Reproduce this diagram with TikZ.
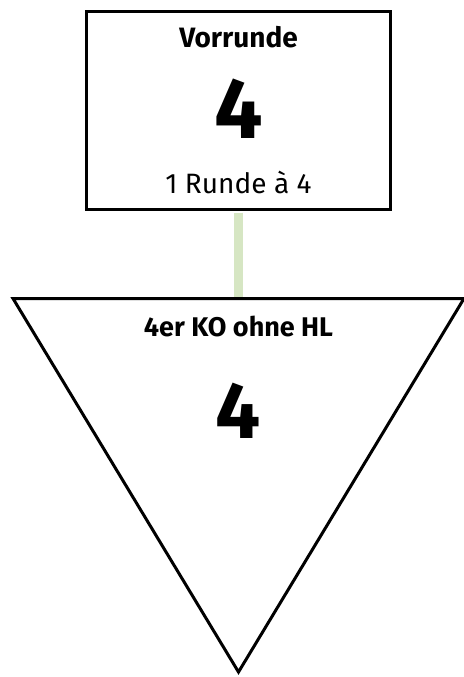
\documentclass[tikz,border=0pt]{standalone}
\usepackage{fontspec}
\setmainfont{Fira Sans}
\definecolor{linkgreen}{HTML}{D6E6C3}

\begin{document}
\begin{tikzpicture}[x=1pt,y=1pt]
    \tikzstyle{stage}=[rectangle,draw,line width=3pt,minimum width=304pt,minimum height=198pt,inner sep=0pt]
    \tikzstyle{title}=[anchor=base,font=\bfseries\fontsize{28}{30}\selectfont]
    \tikzstyle{count}=[anchor=base,font=\bfseries\fontsize{86}{90}\selectfont]
    \tikzstyle{info}=[anchor=base,font=\fontsize{28}{30}\selectfont]
    \useasboundingbox (0,0) rectangle (463,-677);
    % Vorrunde
    \node (vorrunde) at (238.5,-110.5) [stage] {};
    \node (vtitle) at (238.5,-48) [title] {Vorrunde};
    \node (vcount) at (238.5,-138) [count] {4};
    \node (vinfo) at (238.5,-193) [info] {1 Runde à 4};
    % KO-Runde
    \coordinate (kotop) at (238.5,-298.5);
    \draw [line width=3pt,line join=miter] (13,-298.5) -- (464,-298.5) -- (238.5,-672) -- cycle;
    \node (kotitle) at (238.5,-336) [title,font=\bfseries\fontsize{27}{30}\selectfont] {4er KO ohne HL};
    \node (kocount) at (238.5,-438) [count,font=\bfseries\fontsize{80}{84}\selectfont] {4};
    \draw [linkgreen,line width=9pt,shorten <=1.5pt,shorten >=1.5pt] (vorrunde.south) -- (kotop);
\end{tikzpicture}
\end{document}
